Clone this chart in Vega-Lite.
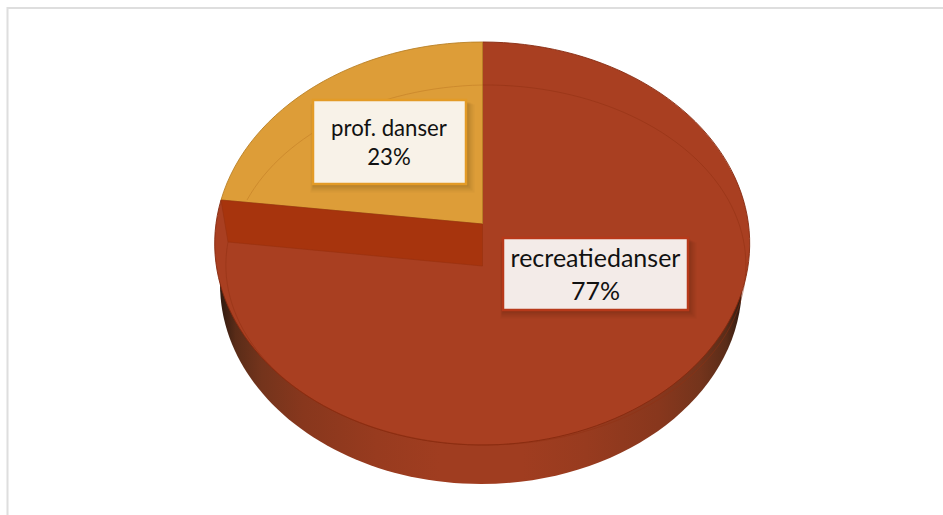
{
"$schema":"https://vega.github.io/schema/vega-lite/v6.json",
"width":943,"height":515,"padding":0,
"autosize":{"type":"none"},
"background":"white",
"view":{"stroke":null},
"data":{"values":[{"category":"recreatiedanser","share":77},{"category":"prof. danser","share":23}]},
"transform":[{"calculate":"datum.category + '\\n' + datum.share + '%'","as":"label"}],
"layer":[
{"transform":[{"filter":"datum.share==77"}],
 "mark":{"type":"point","opacity":1,"filled":false,"size":4,"stroke":"#dedede","strokeWidth":2,"shape":"M-464 258 L-464 -249.5 L472 -249.5"}},
{"transform":[{"filter":"datum.share==77"}],
 "mark":{"type":"point","opacity":1,"filled":true,"size":4,"strokeWidth":0,
  "fill":{"gradient":"linear","x1":0,"x2":1,"y1":0,"y2":0,"stops":[
   {"offset":0,"color":"#2f1a10"},{"offset":0.03,"color":"#5a2c18"},{"offset":0.08,"color":"#74341c"},{"offset":0.16,"color":"#88371d"},{"offset":0.3,"color":"#983b1f"},{"offset":0.42,"color":"#a03d20"},{"offset":0.58,"color":"#a03d20"},{"offset":0.7,"color":"#983b1f"},{"offset":0.84,"color":"#88371d"},{"offset":0.92,"color":"#74341c"},{"offset":0.97,"color":"#5a2c18"},{"offset":1,"color":"#2f1a10"}]},
  "shape":"M-251.5 26.5 A261 200 0 0 0 270.5 26.5 L270.5 -10 L-251.5 -10 Z"}},
{"mark":{"type":"point","opacity":1,"filled":true,"size":4,"strokeWidth":0.9},
 "encoding":{
  "shape":{"field":"category","type":"nominal","legend":null,"scale":{"domain":["recreatiedanser","prof. danser"],"range":["M11 -215.5 A267.5 201.5 0 1 1 -250.5 -57.5 L11 -33.5 Z","M11 -215.5 A267.5 201.5 0 0 0 -250.5 -57.5 L11 -33.5 Z"]}},
  "fill":{"field":"category","type":"nominal","legend":null,"scale":{"domain":["recreatiedanser","prof. danser"],"range":["#a93f21","#dd9d38"]}},
  "stroke":{"field":"category","type":"nominal","legend":null,"scale":{"domain":["recreatiedanser","prof. danser"],"range":["#86290e","#b98026"]}}
 }},
{"transform":[{"filter":"datum.share==77"}],
 "mark":{"type":"point","opacity":1,"filled":true,"size":4,"fill":"#a7340d","stroke":"#97300f","strokeWidth":0.6,"shape":"M-250.5 -57.5 L11 -33.5 L11 8.5 L-243.5 -15.5 Z"}},
{"transform":[{"filter":"datum.share==77"}],
 "mark":{"type":"point","opacity":1,"filled":false,"size":4,"stroke":"#8f2f12","strokeOpacity":0.5,"strokeWidth":1,"shape":"M11 -172.5 A260 180 0 1 1 -243.5 -15.5"}},
{"transform":[{"filter":"datum.share==23"}],
 "mark":{"type":"point","opacity":1,"filled":false,"size":4,"stroke":"#c9862a","strokeOpacity":0.8,"strokeWidth":1,"shape":"M11 -172.5 A260 180 0 0 0 -224.5 -57.5"}},

{"transform":[{"filter":"datum.share==23"}],
 "mark":{"type":"point","opacity":0.03,"filled":true,"size":4,"strokeWidth":0,"fill":"#000","shape":"M-161 -153 H3 V-65 H-161 Z"}},
{"transform":[{"filter":"datum.share==23"}],
 "mark":{"type":"point","opacity":0.04,"filled":true,"size":4,"strokeWidth":0,"fill":"#000","shape":"M-160 -154 H1 V-67 H-160 Z"}},
{"transform":[{"filter":"datum.share==23"}],
 "mark":{"type":"point","opacity":0.05,"filled":true,"size":4,"strokeWidth":0,"fill":"#000","shape":"M-159 -155 H-1 V-69 H-159 Z"}},
{"transform":[{"filter":"datum.share==23"}],
 "mark":{"type":"point","opacity":0.06,"filled":true,"size":4,"strokeWidth":0,"fill":"#000","shape":"M-159 -155 H-3 V-71 H-159 Z"}},
{"transform":[{"filter":"datum.share==23"}],
 "mark":{"type":"point","opacity":1,"filled":true,"size":4,"fill":"#f8f2e8","stroke":"#e39b27","strokeWidth":2.5,"shape":"M-158.5 -157.5 H-5.5 V-73.5 H-158.5 Z"}},
{"transform":[{"filter":"datum.share==77"}],
 "mark":{"type":"point","opacity":0.03,"filled":true,"size":4,"strokeWidth":0,"fill":"#000","shape":"M29 -15 H225 V61 H29 Z"}},
{"transform":[{"filter":"datum.share==77"}],
 "mark":{"type":"point","opacity":0.04,"filled":true,"size":4,"strokeWidth":0,"fill":"#000","shape":"M30 -16 H223 V59 H30 Z"}},
{"transform":[{"filter":"datum.share==77"}],
 "mark":{"type":"point","opacity":0.05,"filled":true,"size":4,"strokeWidth":0,"fill":"#000","shape":"M30 -17 H221 V57 H30 Z"}},
{"transform":[{"filter":"datum.share==77"}],
 "mark":{"type":"point","opacity":0.06,"filled":true,"size":4,"strokeWidth":0,"fill":"#000","shape":"M31 -18 H219 V55 H31 Z"}},
{"transform":[{"filter":"datum.share==77"}],
 "mark":{"type":"point","opacity":1,"filled":true,"size":4,"fill":"#f3ebe8","stroke":"#b7391a","strokeWidth":2.5,"shape":"M31.5 -19.5 H216.5 V52.5 H31.5 Z"}},

{"transform":[{"filter":"datum.share==23"}],
 "mark":{"type":"text","font":"Lato","fontSize":22.2,"fill":"#111111","lineBreak":"\n","lineHeight":28.5,"align":"center","baseline":"middle","dx":-82.5,"dy":-128.5},
 "encoding":{"text":{"field":"label","type":"nominal"}}},
{"transform":[{"filter":"datum.share==77"}],
 "mark":{"type":"text","font":"Lato","fontSize":25,"fill":"#111111","lineBreak":"\n","lineHeight":33,"align":"center","baseline":"middle","dx":124,"dy":1.5},
 "encoding":{"text":{"field":"label","type":"nominal"}}}
]
}
